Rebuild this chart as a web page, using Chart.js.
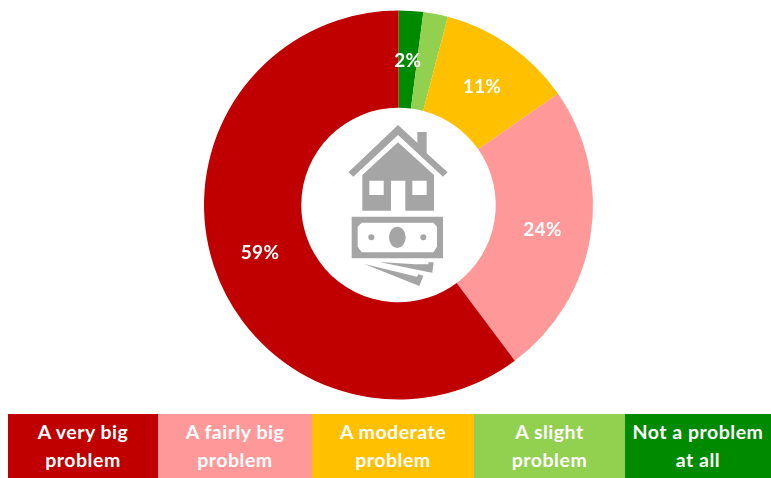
<!DOCTYPE html>
<html>
<head>
<meta charset="utf-8">
<script src="https://cdn.jsdelivr.net/npm/chart.js@4"></script>
<style>
html,body{margin:0;padding:0;background:#fff;width:771px;height:478px;overflow:hidden}
#wrap{position:relative;width:771px;height:478px}
canvas{position:absolute;left:0;top:0}
#icon{position:absolute;left:300px;top:110px}
.lg{position:absolute;top:414px;height:64px;display:flex;align-items:center;justify-content:center;text-align:center;color:#fff;font:700 19.5px/28px Lato,sans-serif;letter-spacing:.5px;white-space:nowrap}
</style>
</head>
<body>
<div id="wrap">
<canvas id="c" width="771" height="478"></canvas>
<svg id="icon" width="200" height="190" viewBox="0 0 600 570">
<g fill="#a5a5a5">
<path d="M294 45L352 98V66H380V130L443 187L429 200L294 75L160 200L145 187Z"/>
<path fill-rule="evenodd" d="M294 97L402 195V302H316V212H273V302H187V195ZM208 212V255H251V212ZM337 212V255H380V212Z"/>
<path fill-rule="evenodd" d="M155 320H429V445H155ZM185 338L173 350V410L185 427H400L411 410V350L400 338Z"/>
<ellipse cx="292" cy="382" rx="25" ry="32"/>
<circle cx="214" cy="382" r="9"/>
<circle cx="370" cy="382" r="9"/>
<path d="M238 456L345 463L385 463V457H401L397 488L380 485Z"/>
<path d="M193 462L351 500L355 493L370 497L358 528Z"/>
</g>
</svg>
<div id="legend"></div>
</div>
<script>
const categories = [["A very big","problem"],["A fairly big","problem"],["A moderate","problem"],["A slight","problem"],["Not a problem","at all"]];
const values = [59,24,11,2,2];
const labels = ["59%","24%","11%","","2%"];
const colors = ["#C00000","#FF9999","#FFC000","#92D050","#008A00"];
const legendEdges = [8,158,312,474,625,771];

const legend = document.getElementById('legend');
categories.forEach((lines,i)=>{
  const d = document.createElement('div');
  d.className = 'lg';
  d.style.left = legendEdges[i]+'px';
  d.style.width = (legendEdges[i+1]-legendEdges[i])+'px';
  d.style.background = colors[i];
  d.innerHTML = lines.join('<br>');
  legend.appendChild(d);
});

const rev = a => a.slice().reverse();
const sliceLabels = rev(labels);

const labelPlugin = {
  id:'sliceLabels',
  afterDatasetsDraw(chart){
    const ctx = chart.ctx;
    ctx.save();
    ctx.font = '700 19px Lato, sans-serif';
    ctx.letterSpacing = '0.3px';
    ctx.fillStyle = '#fff';
    ctx.textAlign = 'center';
    ctx.textBaseline = 'middle';
    chart.getDatasetMeta(0).data.forEach((arc,i)=>{
      if(!sliceLabels[i]) return;
      const p = arc.getCenterPoint();
      ctx.fillText(sliceLabels[i], p.x, p.y + 1.5);
    });
    ctx.restore();
  }
};

new Chart(document.getElementById('c'),{
  type:'doughnut',
  data:{
    labels:rev(categories).map(l=>l.join(' ')),
    datasets:[{data:rev(values),backgroundColor:rev(colors),borderWidth:0}]
  },
  options:{
    responsive:false,
    animation:false,
    cutout:'50%',
    layout:{padding:{top:10,bottom:78,left:204,right:178}},
    plugins:{legend:{display:false},tooltip:{enabled:false}}
  },
  plugins:[labelPlugin]
});
</script>
</body>
</html>
